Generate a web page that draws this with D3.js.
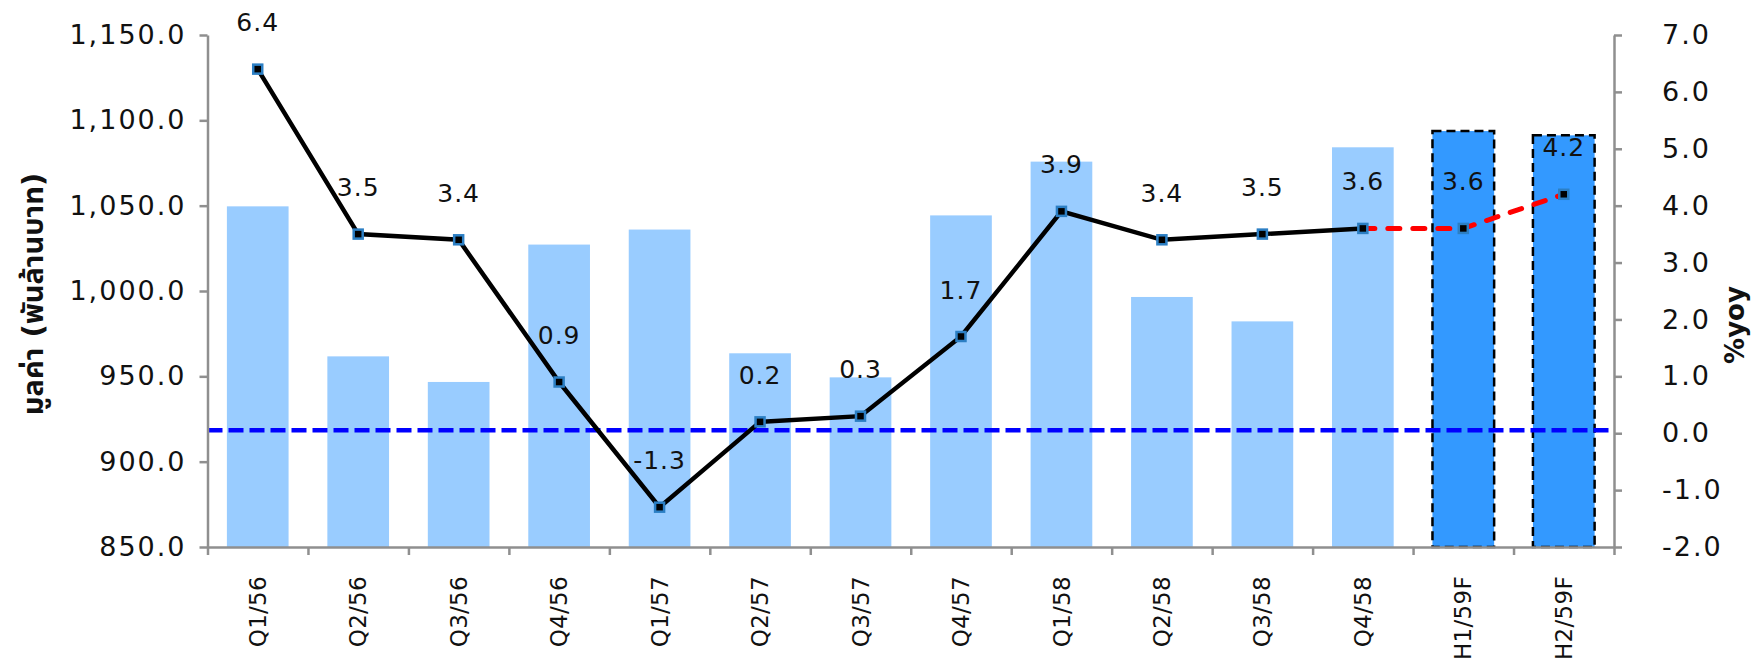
<!DOCTYPE html>
<html>
<head>
<meta charset="utf-8">
<script src="https://cdn.jsdelivr.net/npm/d3@7"></script>
<style>
  body { margin: 0; background: #fff; }
  svg text { font-family: "DejaVu Sans", "Noto Sans Thai", sans-serif; fill: #111; }
  .axis path, .axis line { stroke: #8f8f8f; stroke-width: 2.5; }
  .yaxis text { font-size: 27px; letter-spacing: 2px; }
  .xaxis text { font-size: 23px; letter-spacing: 0.3px; }
</style>
</head>
<body>
<div id="chart"></div>
<script>
// data
var categories = ["Q1/56","Q2/56","Q3/56","Q4/56","Q1/57","Q2/57","Q3/57","Q4/57","Q1/58","Q2/58","Q3/58","Q4/58","H1/59F","H2/59F"];
var values = [1049.6, 961.7, 946.7, 1027.2, 1036.0, 963.5, 949.4, 1044.3, 1075.8, 996.5, 982.2, 1084.2, 1093.7, 1091.2];
var yoy = [6.4, 3.5, 3.4, 0.9, -1.3, 0.2, 0.3, 1.7, 3.9, 3.4, 3.5, 3.6, 3.6, 4.2];
var forecast = ["H1/59F","H2/59F"];
var leftTicks = [850, 900, 950, 1000, 1050, 1100, 1150];
var rightTicks = [-2, -1, 0, 1, 2, 3, 4, 5, 6, 7];

var width = 1757, height = 662;
var plotLeft = 207.5, plotRight = 1614, plotTop = 35, plotBottom = 547;

var loc = d3.formatLocale({ decimal: ".", thousands: ",", grouping: [3], currency: ["", ""], minus: "-" });
var fmtLeft = loc.format(",.1f");
var fmtPct = loc.format(".1f");

var svg = d3.select("#chart")
    .append("svg")
    .attr("width", width)
    .attr("height", height);

var xScale = d3.scaleBand()
    .domain(categories)
    .range([plotLeft, plotRight])
    .paddingInner(0.386)
    .paddingOuter(0.193);

var xEdges = d3.scaleLinear()
    .domain([0, categories.length])
    .range([plotLeft, plotRight]);

var yLeft = d3.scaleLinear()
    .domain([850, 1150])
    .range([plotBottom, plotTop]);

var yRight = d3.scaleLinear()
    .domain([-2, 7])
    .range([plotBottom, plotTop]);

var data = categories.map(function(c, i) {
    return { cat: c, value: values[i], yoy: yoy[i], fc: forecast.indexOf(c) >= 0 };
});

// bars
svg.append("g")
    .selectAll("rect")
    .data(data)
    .enter()
    .append("rect")
    .attr("x", function(d) { return xScale(d.cat); })
    .attr("y", function(d) { return yLeft(d.value); })
    .attr("width", xScale.bandwidth())
    .attr("height", function(d) { return yLeft(850) - yLeft(d.value); })
    .attr("fill", function(d) { return d.fc ? "#3399ff" : "#99ccff"; })
    .attr("stroke", function(d) { return d.fc ? "#000" : "none"; })
    .attr("stroke-width", 2.5)
    .attr("stroke-dasharray", "9,5");

// zero line on right axis
svg.append("line")
    .attr("x1", plotLeft)
    .attr("x2", plotRight)
    .attr("y1", yRight(0) - 3)
    .attr("y2", yRight(0) - 3)
    .attr("stroke", "#0000ff")
    .attr("stroke-width", 4.5)
    .attr("stroke-dasharray", "15,6");

// axes
svg.append("g")
    .attr("class", "axis yaxis")
    .attr("transform", "translate(" + plotLeft + ",0)")
    .call(d3.axisLeft(yLeft).tickValues(leftTicks).tickFormat(fmtLeft).tickSize(8).tickSizeOuter(0).tickPadding(13));

svg.append("g")
    .attr("class", "axis yaxis")
    .attr("transform", "translate(" + plotRight + ",0)")
    .call(d3.axisRight(yRight).tickValues(rightTicks).tickFormat(fmtPct).tickSize(8).tickSizeOuter(0).tickPadding(40));

svg.append("g")
    .attr("class", "axis")
    .attr("transform", "translate(0," + plotBottom + ")")
    .call(d3.axisBottom(xEdges).tickValues(d3.range(categories.length + 1)).tickFormat("").tickSize(8).tickSizeOuter(0));

var xLabels = svg.append("g")
    .attr("class", "axis xaxis")
    .attr("transform", "translate(0," + plotBottom + ")")
    .call(d3.axisBottom(xScale).tickSize(0).tickSizeOuter(0));
xLabels.select(".domain").remove();
xLabels.selectAll("text")
    .attr("text-anchor", "end")
    .attr("transform", "translate(0,29) rotate(-90)")
    .attr("x", 0)
    .attr("y", 0)
    .attr("dy", "0.35em");

// yoy lines
var line = d3.line()
    .x(function(d) { return xScale(d.cat) + xScale.bandwidth() / 2; })
    .y(function(d) { return yRight(d.yoy); });

svg.append("path")
    .datum(data.slice(0, 12))
    .attr("fill", "none")
    .attr("stroke", "#000")
    .attr("stroke-width", 4.5)
    .attr("d", line);

svg.append("path")
    .datum(data.slice(11))
    .attr("fill", "none")
    .attr("stroke", "#ff0000")
    .attr("stroke-width", 5)
    .attr("stroke-linecap", "round")
    .attr("stroke-dasharray", "12,13")
    .attr("d", line);

svg.append("g")
    .selectAll("rect")
    .data(data)
    .enter()
    .append("rect")
    .attr("x", function(d) { return xScale(d.cat) + xScale.bandwidth() / 2 - 4.5; })
    .attr("y", function(d) { return yRight(d.yoy) - 4.5; })
    .attr("width", 9)
    .attr("height", 9)
    .attr("fill", "#000")
    .attr("stroke", "#2c7fc4")
    .attr("stroke-width", 2.5);

svg.append("g")
    .selectAll("text")
    .data(data)
    .enter()
    .append("text")
    .attr("x", function(d) { return xScale(d.cat) + xScale.bandwidth() / 2; })
    .attr("y", function(d) { return yRight(d.yoy) - 38; })
    .attr("text-anchor", "middle")
    .style("font-size", "25px")
    .style("letter-spacing", "1px")
    .text(function(d) { return fmtPct(d.yoy); });

// axis titles
svg.append("text")
    .text("มูลค่า (พันล้านบาท)")
    .attr("text-anchor", "middle")
    .attr("transform", "translate(33,294) rotate(-90)")
    .attr("dy", "0.35em")
    .style("font-size", "29px")
    .style("font-weight", "bold");

svg.append("text")
    .text("%yoy")
    .attr("text-anchor", "middle")
    .attr("transform", "translate(1735,325) rotate(-90)")
    .attr("dy", "0.35em")
    .style("font-size", "26px")
    .style("font-weight", "bold");
</script>
</body>
</html>
